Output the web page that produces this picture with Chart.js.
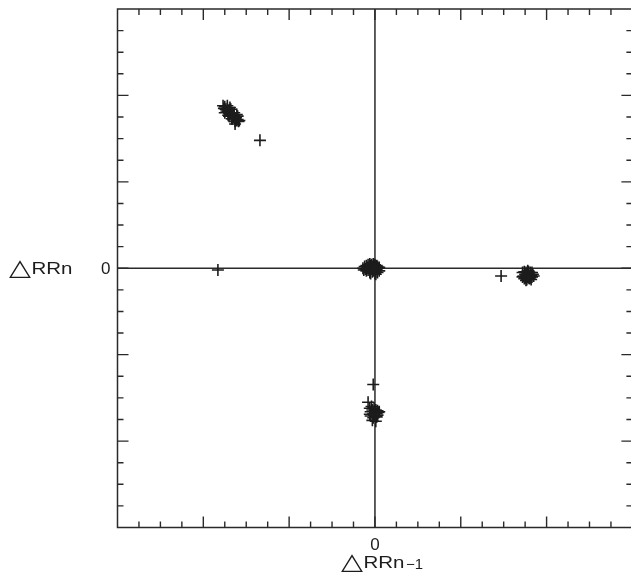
<!DOCTYPE html>
<html>
<head>
<meta charset="utf-8">
<script src="https://cdn.jsdelivr.net/npm/chart.js@4/dist/chart.umd.min.js"></script>
<style>
  html, body { margin: 0; padding: 0; background: #fff; overflow: hidden; }
  #wrap { position: absolute; left: 0; top: 0; width: 640px; height: 579px; }
</style>
</head>
<body>
<div id="wrap"><canvas id="c" width="640" height="579"></canvas></div>
<script>
// Poincaré-style return map of successive RR-interval differences
const centreX = [-0.14,-0.12,-0.11,-0.10,-0.10,-0.09,-0.08,-0.08,-0.07,-0.06,-0.06,-0.05,-0.05,-0.04,-0.04,-0.03,-0.03,-0.02,-0.02,-0.01,-0.01,0.00,0.00,0.00,0.01,0.01,0.02,0.02,0.03,0.03,0.04,0.05,0.05,-0.13,0.01];
const centreY = [0.00,0.02,-0.01,0.03,-0.03,0.01,0.04,-0.02,0.01,0.05,-0.05,0.03,-0.06,-0.01,0.04,-0.04,0.02,0.05,-0.03,0.03,0.00,-0.06,0.04,0.01,0.02,-0.04,0.03,-0.01,0.02,-0.05,0.00,0.01,-0.03,-0.02,-0.07];

const upperLeftX = [-1.77,-1.75,-1.76,-1.74,-1.72,-1.73,-1.71,-1.70,-1.69,-1.68,-1.67,-1.66,-1.65,-1.64,-1.63,-1.62,-1.61,-1.60,-1.59,-1.63,-1.66,-1.58,-1.70,-1.72,-1.68,-1.64,-1.60,-1.75,-1.71,-1.67,-1.63,-1.69,-1.61,-1.34];
const upperLeftY = [1.88,1.87,1.85,1.84,1.85,1.82,1.81,1.83,1.79,1.80,1.77,1.78,1.75,1.76,1.73,1.74,1.71,1.72,1.70,1.67,1.73,1.71,1.76,1.88,1.84,1.80,1.76,1.80,1.77,1.73,1.70,1.86,1.78,1.48];

const leftX = [-1.83];
const leftY = [-0.02];

const rightX = [1.47,1.72,1.73,1.74,1.75,1.75,1.76,1.77,1.77,1.78,1.78,1.79,1.80,1.80,1.81,1.82,1.83,1.84,1.85,1.76,1.79,1.72,1.81,1.74,1.78,1.82,1.83,1.79,1.76];
const rightY = [-0.09,-0.05,-0.09,-0.04,-0.07,-0.11,-0.05,-0.08,-0.13,-0.03,-0.10,-0.06,-0.09,-0.12,-0.05,-0.08,-0.10,-0.07,-0.09,-0.14,-0.04,-0.10,-0.11,-0.12,-0.06,-0.13,-0.05,-0.11,-0.09];

const lowerX = [-0.02,-0.08,-0.06,-0.05,-0.04,-0.03,-0.02,-0.01,0.00,0.01,0.02,0.03,0.04,0.05,-0.05,-0.02,0.00,0.02,-0.03,0.01,-0.06,0.03,-0.01];
const lowerY = [-1.345,-1.55,-1.62,-1.66,-1.60,-1.64,-1.68,-1.62,-1.66,-1.64,-1.68,-1.65,-1.67,-1.66,-1.71,-1.73,-1.71,-1.72,-1.76,-1.77,-1.69,-1.70,-1.70];

// axis extent, major and minor tick steps, labelled ticks
const axisMin = -3, axisMax = 3;
const majorStep = 1, minorStep = 0.25;
const xTickLabels = [{ value: 0, text: '0' }];
const yTickLabels = [{ value: 0, text: '0' }];

function pts(xs, ys) { return xs.map((x, i) => ({ x: x, y: ys[i] })); }
const allPoints = [].concat(
  pts(centreX, centreY), pts(upperLeftX, upperLeftY), pts(leftX, leftY),
  pts(rightX, rightY), pts(lowerX, lowerY)
);

const INK = '#1c1c1c';
const FAMILY = '"Liberation Sans", Arial, sans-serif';
const FONT = '17px ' + FAMILY;

// draws text squeezed or widened to a given width, left-aligned at x
function textToWidth(ctx, text, font, x, y, width) {
  ctx.save();
  ctx.font = font;
  ctx.textAlign = 'left';
  const w = ctx.measureText(text).width;
  ctx.translate(x, y);
  ctx.scale(width / w, 1);
  ctx.fillText(text, 0, 0);
  ctx.restore();
}

// "△RRn" with an optional small suffix, starting at x
function drawTitle(ctx, x, y, suffix) {
  textToWidth(ctx, '\u25B3', '23px "DejaVu Sans", sans-serif', x - 1, y, 22);
  textToWidth(ctx, 'RRn', FONT, x + 21.5, y, 41);
  if (suffix) textToWidth(ctx, suffix, '14px ' + FAMILY, x + 64, y + 1.5, 17);
}

const framePlugin = {
  id: 'frame',
  beforeDatasetsDraw(chart) {
    const ctx = chart.ctx, a = chart.chartArea;
    const xs = chart.scales.x, ys = chart.scales.y;
    ctx.save();
    ctx.strokeStyle = '#2a2a2a';
    ctx.lineWidth = 1.5;
    ctx.strokeRect(a.left, a.top, a.right - a.left, a.bottom - a.top);
    // zero lines
    const x0 = xs.getPixelForValue(0), y0 = ys.getPixelForValue(0);
    ctx.beginPath();
    ctx.moveTo(x0, a.top); ctx.lineTo(x0, a.bottom);
    ctx.moveTo(a.left, y0); ctx.lineTo(a.right, y0);
    ctx.stroke();
    // inward ticks on every side
    ctx.lineWidth = 1.4;
    ctx.beginPath();
    const n = Math.round((axisMax - axisMin) / minorStep);
    for (let i = 1; i < n; i++) {
      const v = axisMin + i * minorStep;
      const major = Math.abs(v / majorStep - Math.round(v / majorStep)) < 1e-6;
      const len = major ? 11 : 6;
      const px = xs.getPixelForValue(v), py = ys.getPixelForValue(v);
      ctx.moveTo(px, a.top); ctx.lineTo(px, a.top + len);
      ctx.moveTo(px, a.bottom); ctx.lineTo(px, a.bottom - len);
      ctx.moveTo(a.left, py); ctx.lineTo(a.left + len, py);
      ctx.moveTo(a.right, py); ctx.lineTo(a.right - len, py);
    }
    ctx.stroke();
    ctx.restore();
  },
  afterDraw(chart) {
    const ctx = chart.ctx, a = chart.chartArea;
    const xs = chart.scales.x, ys = chart.scales.y;
    ctx.save();
    ctx.fillStyle = INK;
    ctx.font = FONT;
    ctx.textBaseline = 'middle';
    ctx.textAlign = 'center';
    xTickLabels.forEach(t => ctx.fillText(t.text, xs.getPixelForValue(t.value), a.bottom + 18));
    ctx.textAlign = 'right';
    yTickLabels.forEach(t => ctx.fillText(t.text, a.left - 7, ys.getPixelForValue(t.value) + 1));
    // axis titles
    drawTitle(ctx, 10, ys.getPixelForValue(0) + 1, '');
    drawTitle(ctx, xs.getPixelForValue(0) - 33, a.bottom + 36, '\u22121');
    ctx.restore();
  }
};

new Chart(document.getElementById('c'), {
  type: 'scatter',
  data: {
    datasets: [{
      data: allPoints,
      pointStyle: 'cross',
      pointRadius: 6,
      pointHoverRadius: 6,
      borderColor: INK,
      backgroundColor: INK,
      borderWidth: 1.6
    }]
  },
  options: {
    responsive: false,
    animation: false,
    events: [],
    layout: { padding: { left: 117.5, top: 9, right: 4.7, bottom: 51.5 } },
    plugins: { legend: { display: false }, tooltip: { enabled: false } },
    scales: {
      x: { type: 'linear', min: axisMin, max: axisMax, display: false },
      y: { type: 'linear', min: axisMin, max: axisMax, display: false }
    }
  },
  plugins: [framePlugin]
});
</script>
</body>
</html>
